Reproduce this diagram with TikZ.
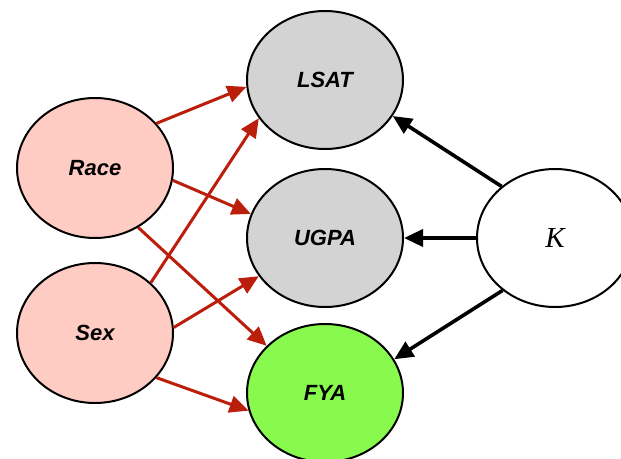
\documentclass[tikz,border=0pt]{standalone}
\usepackage{fontspec}
\setmainfont{Liberation Serif}
\setsansfont{Liberation Sans}
\usepackage{tikz}
\usetikzlibrary{shapes,arrows.meta}
\usetikzlibrary{shapes.geometric}
\usetikzlibrary{positioning}
\definecolor{attrpink}{RGB}{255,204,196}
\definecolor{obsgray}{RGB}{211,211,211}
\definecolor{outgreen}{RGB}{136,250,78}
\definecolor{edgered}{RGB}{188,30,12}
\tikzstyle{var} = [ellipse, draw, line width=2pt, minimum width=156pt,
minimum height=138pt, inner sep=0pt, font=\fontsize{22}{26}\selectfont\sffamily\bfseries\itshape]
\tikzstyle{attr} = [var, fill=attrpink, minimum height=140pt]
\tikzstyle{obs} = [var, fill=obsgray]
\tikzstyle{line} = [draw, line width=3pt, edgered, -{Triangle[length=19pt,width=17pt]}]
\tikzstyle{kline} = [draw, line width=3.6pt, black, -{Triangle[length=19pt,width=17pt]}]

\begin{document}
\begin{tikzpicture}[x=1pt, y=-1pt, node distance=158pt]
\useasboundingbox (0,0) rectangle (621,458);
% Place nodes
\node [obs] (i1) at (325,80) {LSAT};
\node [obs, below of=i1] (i2) {UGPA};
\node [var, fill=outgreen, below of=i2, node distance=155pt] (i3) {FYA};
\node [attr] (i4) at (95,168) {Race};
\node [attr, below of=i4, node distance=165pt] (i5) {Sex};
\node [var, fill=white, font=\fontsize{29}{32}\selectfont\itshape] (i6) at (555,238) {K};

% Draw edges
\path [line] (i4.36) -- (i1.185);
\path [line] (i4.-9) -- (i2.162);
\path [line] (i4.-54) -- (i3.141);
\path [line] (i5.42) -- (i1.210);
\path [line] (i5.4) -- (i2.210);
\path [line] (i5.-36) -- (i3.193);
\path [kline] (i6.136) -- (i1.-28);
\path [kline] (i6.180) -- (i2.0);
\path [kline] (i6.225) -- (i3.26);
\end{tikzpicture}
\end{document}
